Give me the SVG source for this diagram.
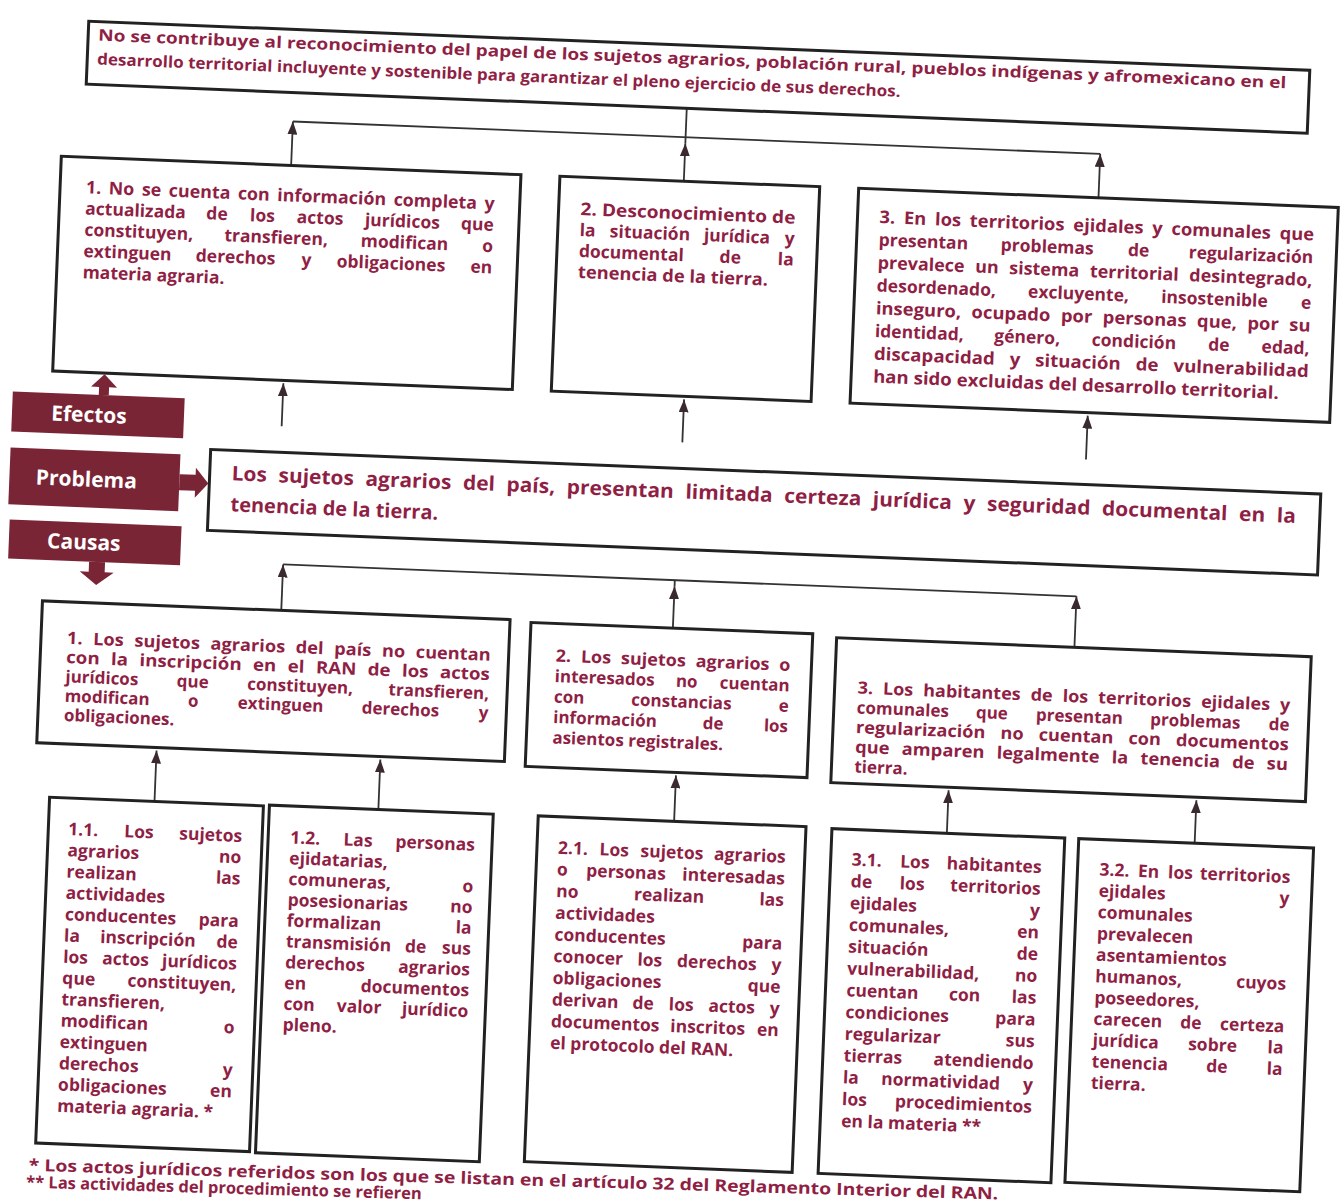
<svg xmlns="http://www.w3.org/2000/svg" width="1341" height="1204" viewBox="0 0 1341 1204">
<style>
.box{fill:#fff;stroke:#222;stroke-width:3}
.t{font-family:"Open Sans","DejaVu Sans",sans-serif;font-weight:700;fill:#8f1f45}
.m{text-anchor:middle}
.e{text-anchor:end}
.lab{fill:#7a2536}
.lt{font-family:"Open Sans","DejaVu Sans",sans-serif;font-weight:700;font-size:21px;fill:#fff;text-anchor:middle}
.con{fill:none;stroke:#333;stroke-width:1.8}
.f16{font-size:16px}.f17{font-size:17px}.f175{font-size:17.5px}.f20{font-size:20px}.f165{font-size:16.5px}
</style>
<defs>
<marker id="ah" markerUnits="userSpaceOnUse" markerWidth="13" markerHeight="10" refX="13" refY="5" orient="auto"><path d="M0,0 L13,5 L0,10 z" fill="#3a2a2f"/></marker>
</defs>
<rect width="1341" height="1204" fill="#fff"/>
<g transform="rotate(2.3 670 600)">

<g id="connectors">
<path class="con" d="M274,137 H1082"/>
<line class="con" x1="274" y1="181" x2="274" y2="137" marker-end="url(#ah)"/>
<line class="con" x1="1082" y1="181" x2="1082" y2="137" marker-end="url(#ah)"/>
<line class="con" x1="667" y1="181" x2="667" y2="143" marker-end="url(#ah)"/>
<line class="con" x1="667" y1="143" x2="667" y2="108"/>
<line class="con" x1="275" y1="442" x2="275" y2="399" marker-end="url(#ah)"/>
<line class="con" x1="676" y1="442" x2="676" y2="399" marker-end="url(#ah)"/>
<line class="con" x1="1080" y1="443" x2="1080" y2="399" marker-end="url(#ah)"/>
<path class="con" d="M282,580 H1076"/>
<line class="con" x1="282" y1="626" x2="282" y2="580" marker-end="url(#ah)"/>
<line class="con" x1="674" y1="628" x2="674" y2="586" marker-end="url(#ah)"/>
<line class="con" x1="674" y1="586" x2="674" y2="580"/>
<line class="con" x1="1076" y1="631" x2="1076" y2="580" marker-end="url(#ah)"/>
<line class="con" x1="163" y1="822" x2="163" y2="771" marker-end="url(#ah)"/>
<line class="con" x1="387" y1="821" x2="387" y2="771" marker-end="url(#ah)"/>
<line class="con" x1="683" y1="821" x2="683" y2="775" marker-end="url(#ah)"/>
<line class="con" x1="956" y1="822" x2="956" y2="779" marker-end="url(#ah)"/>
<line class="con" x1="1204" y1="822" x2="1204" y2="779" marker-end="url(#ah)"/>
</g>

<g id="fin" class="t f16">
<rect class="box" x="66" y="45" width="1222" height="63"/>
<text x="76" y="64" textLength="1189" lengthAdjust="spacingAndGlyphs">No se contribuye al reconocimiento del papel de los sujetos agrarios, población rural, pueblos indígenas y afromexicano en el</text>
<text x="76" y="88" textLength="804" lengthAdjust="spacingAndGlyphs">desarrollo territorial incluyente y sostenible para garantizar el pleno ejercicio de sus derechos.</text>
</g>

<g id="efecto1" class="t f175">
<rect class="box" x="44" y="181" width="460" height="215"/>
<text x="70" y="217" word-spacing="2.8" textLength="409" lengthAdjust="spacingAndGlyphs">1. No se cuenta con información completa y</text>
<text x="70" y="238.3">actualizada</text><text class="m" x="201.9" y="238.3">de</text><text class="m" x="247.4" y="238.3">los</text><text class="m" x="305.1" y="238.3">actos</text><text class="m" x="387.4" y="238.3">jurídicos</text><text class="e" x="479" y="238.3">que</text>
<text x="70" y="259.5">constituyen,</text><text class="m" x="261.9" y="259.5">transfieren,</text><text class="m" x="390.4" y="259.5">modifican</text><text class="e" x="479" y="259.5">o</text>
<text x="70" y="280.8">extinguen</text><text class="m" x="222.2" y="280.8">derechos</text><text class="m" x="293" y="280.8">y</text><text class="m" x="377.7" y="280.8">obligaciones</text><text class="e" x="479" y="280.8">en</text>
<text x="70" y="302">materia agraria.</text>
</g>

<g id="efecto2" class="t f175">
<rect class="box" x="543" y="181" width="260" height="215"/>
<text x="565" y="219" textLength="215" lengthAdjust="spacingAndGlyphs">2. Desconocimiento de</text>
<text x="565" y="240">la</text><text class="m" x="635.3" y="240">situación</text><text class="m" x="722.4" y="240">jurídica</text><text class="e" x="780" y="240">y</text>
<text x="565" y="261">documental</text><text class="m" x="716.5" y="261">de</text><text class="e" x="780" y="261">la</text>
<text x="565" y="282" textLength="190" lengthAdjust="spacingAndGlyphs">tenencia de la tierra.</text>
</g>

<g id="efecto3" class="t f175">
<rect class="box" x="842" y="181" width="480" height="215"/>
<text x="864" y="215" word-spacing="3.8" textLength="435" lengthAdjust="spacingAndGlyphs">3. En los territorios ejidales y comunales que</text>
<text x="864" y="237.8">presentan</text><text class="m" x="1032.8" y="237.8">problemas</text><text class="m" x="1124.2" y="237.8">de</text><text class="e" x="1299" y="237.8">regularización</text>
<text x="864" y="260.6" word-spacing="5.8" textLength="435" lengthAdjust="spacingAndGlyphs">prevalece un sistema territorial desintegrado,</text>
<text x="864" y="283.4">desordenado,</text><text class="m" x="1065.9" y="283.4">excluyente,</text><text class="m" x="1202" y="283.4">insostenible</text><text class="e" x="1299" y="283.4">e</text>
<text x="864" y="306.2" word-spacing="5.4" textLength="435" lengthAdjust="spacingAndGlyphs">inseguro, ocupado por personas que, por su</text>
<text x="864" y="329">identidad,</text><text class="m" x="1016.4" y="329">género,</text><text class="m" x="1123.2" y="329">condición</text><text class="m" x="1208.3" y="329">de</text><text class="e" x="1299" y="329">edad,</text>
<text x="864" y="351.8" word-spacing="9.5" textLength="435" lengthAdjust="spacingAndGlyphs">discapacidad y situación de vulnerabilidad</text>
<text x="864" y="374.6" textLength="406" lengthAdjust="spacingAndGlyphs">han sido excluidas del desarrollo territorial.</text>
</g>

<g id="label-efectos">
<polygon class="lab" points="91,418 91,410 83,410 96,397 109,410 101,410 101,418"/>
<rect class="lab" x="5" y="418" width="172" height="40"/>
<text class="lt" x="82" y="445.5">Efectos</text>
</g>
<g id="label-problema">
<rect class="lab" x="5" y="474" width="170" height="57"/>
<polygon class="lab" points="175,494 191,494 191,487 204,502 191,517 191,510 175,510"/>
<text class="lt" x="82" y="510">Problema</text>
</g>
<g id="label-causas">
<rect class="lab" x="7" y="546" width="172" height="39"/>
<polygon class="lab" points="88,585 104,585 104,595 113,595 96,608 79,595 88,595"/>
<text class="lt" x="82" y="573">Causas</text>
</g>

<g id="problema" class="t f20">
<rect class="box" x="205" y="468" width="1111" height="81"/>
<text x="227" y="498" word-spacing="5.9" textLength="1065" lengthAdjust="spacingAndGlyphs">Los sujetos agrarios del país, presentan limitada certeza jurídica y seguridad documental en la</text>
<text x="227" y="529">tenencia de la tierra.</text>
</g>

<g id="causa1" class="t f17">
<rect class="box" x="43" y="626" width="468" height="142"/>
<text x="69" y="668" word-spacing="5.5" textLength="424" lengthAdjust="spacingAndGlyphs">1. Los sujetos agrarios del país no cuentan</text>
<text x="69" y="687.3" word-spacing="5.9" textLength="424" lengthAdjust="spacingAndGlyphs">con la inscripción en el RAN de los actos</text>
<text x="69" y="706.6">jurídicos</text><text class="m" x="196.4" y="706.6">que</text><text class="m" x="303.9" y="706.6">constituyen,</text><text class="e" x="493" y="706.6">transfieren,</text>
<text x="69" y="725.9">modifican</text><text class="m" x="197.7" y="725.9">o</text><text class="m" x="285.1" y="725.9">extinguen</text><text class="m" x="405" y="725.9">derechos</text><text class="e" x="493" y="725.9">y</text>
<text x="69" y="745.2">obligaciones.</text>
</g>

<g id="causa2" class="t f17">
<rect class="box" x="532" y="628" width="282" height="144"/>
<text x="558" y="666" word-spacing="4.8" textLength="235" lengthAdjust="spacingAndGlyphs">2. Los sujetos agrarios o</text>
<text x="558" y="686.5">interesados</text><text class="m" x="690" y="686.5">no</text><text class="e" x="793" y="686.5">cuentan</text>
<text x="558" y="707">con</text><text class="m" x="685.5" y="707">constancias</text><text class="e" x="793" y="707">e</text>
<text x="558" y="727.5">información</text><text class="m" x="718" y="727.5">de</text><text class="e" x="793" y="727.5">los</text>
<text x="558" y="748">asientos registrales.</text>
</g>

<g id="causa3" class="t f17">
<rect class="box" x="838" y="631" width="475" height="145"/>
<text x="861" y="686" word-spacing="5" textLength="433" lengthAdjust="spacingAndGlyphs">3. Los habitantes de los territorios ejidales y</text>
<text x="861" y="705.8">comunales</text><text class="m" x="996.2" y="705.8">que</text><text class="m" x="1083.8" y="705.8">presentan</text><text class="m" x="1199.8" y="705.8">problemas</text><text class="e" x="1294" y="705.8">de</text>
<text x="861" y="725.5" word-spacing="9.6" textLength="433" lengthAdjust="spacingAndGlyphs">regularización no cuentan con documentos</text>
<text x="861" y="745.3" word-spacing="6.9" textLength="433" lengthAdjust="spacingAndGlyphs">que amparen legalmente la tenencia de su</text>
<text x="861" y="765">tierra.</text>
</g>

<g id="causa11" class="t f175">
<rect class="box" x="58" y="822" width="214" height="346"/>
<text x="78" y="859">1.1.</text><text class="m" x="148.7" y="859">Los</text><text class="e" x="252" y="859">sujetos</text>
<text x="78" y="880.3">agrarios</text><text class="e" x="252" y="880.3">no</text>
<text x="78" y="901.6">realizan</text><text class="e" x="252" y="901.6">las</text>
<text x="78" y="922.9">actividades</text>
<text x="78" y="944.2">conducentes</text><text class="e" x="252" y="944.2">para</text>
<text x="78" y="965.5">la</text><text class="m" x="162" y="965.5">inscripción</text><text class="e" x="252" y="965.5">de</text>
<text x="78" y="986.8">los</text><text class="m" x="140.5" y="986.8">actos</text><text class="e" x="252" y="986.8">jurídicos</text>
<text x="78" y="1008.1">que</text><text class="e" x="252" y="1008.1">constituyen,</text>
<text x="78" y="1029.4">transfieren,</text>
<text x="78" y="1050.7">modifican</text><text class="e" x="252" y="1050.7">o</text>
<text x="78" y="1072">extinguen</text>
<text x="78" y="1093.3">derechos</text><text class="e" x="252" y="1093.3">y</text>
<text x="78" y="1114.6">obligaciones</text><text class="e" x="252" y="1114.6">en</text>
<text x="78" y="1135.9">materia agraria. *</text>
</g>

<g id="causa12" class="t f175">
<rect class="box" x="278" y="821" width="224" height="348"/>
<text x="300" y="858.5">1.2.</text><text class="m" x="367.9" y="858.5">Las</text><text class="e" x="485" y="858.5">personas</text>
<text x="300" y="879.3">ejidatarias,</text>
<text x="300" y="900.1">comuneras,</text><text class="e" x="485" y="900.1">o</text>
<text x="300" y="920.9">posesionarias</text><text class="e" x="485" y="920.9">no</text>
<text x="300" y="941.7">formalizan</text><text class="e" x="485" y="941.7">la</text>
<text x="300" y="962.5">transmisión</text><text class="m" x="429.8" y="962.5">de</text><text class="e" x="485" y="962.5">sus</text>
<text x="300" y="983.3">derechos</text><text class="e" x="485" y="983.3">agrarios</text>
<text x="300" y="1004.1">en</text><text class="e" x="485" y="1004.1">documentos</text>
<text x="300" y="1024.9">con</text><text class="m" x="375.6" y="1024.9">valor</text><text class="e" x="485" y="1024.9">jurídico</text>
<text x="300" y="1045.7">pleno.</text>
</g>

<g id="causa21" class="t f175">
<rect class="box" x="547" y="821" width="268" height="346"/>
<text x="568" y="858">2.1.</text><text class="m" x="624.3" y="858">Los</text><text class="m" x="682.1" y="858">sujetos</text><text class="e" x="796" y="858">agrarios</text>
<text x="568" y="879.7">o</text><text class="m" x="637" y="879.7">personas</text><text class="e" x="796" y="879.7">interesadas</text>
<text x="568" y="901.4">no</text><text class="m" x="681" y="901.4">realizan</text><text class="e" x="796" y="901.4">las</text>
<text x="568" y="923.1">actividades</text>
<text x="568" y="944.8">conducentes</text><text class="e" x="796" y="944.8">para</text>
<text x="568" y="966.5">conocer</text><text class="m" x="664.3" y="966.5">los</text><text class="m" x="731.4" y="966.5">derechos</text><text class="e" x="796" y="966.5">y</text>
<text x="568" y="988.2">obligaciones</text><text class="e" x="796" y="988.2">que</text>
<text x="568" y="1009.9">derivan</text><text class="m" x="659.4" y="1009.9">de</text><text class="m" x="697.5" y="1009.9">los</text><text class="m" x="748" y="1009.9">actos</text><text class="e" x="796" y="1009.9">y</text>
<text x="568" y="1031.6">documentos</text><text class="m" x="724.9" y="1031.6">inscritos</text><text class="e" x="796" y="1031.6">en</text>
<text x="568" y="1053.3">el protocolo del RAN.</text>
</g>

<g id="causa31" class="t f175">
<rect class="box" x="841" y="822" width="233" height="345"/>
<text x="862" y="858">3.1.</text><text class="m" x="925.2" y="858">Los</text><text class="e" x="1052" y="858">habitantes</text>
<text x="862" y="879.8">de</text><text class="m" x="923.4" y="879.8">los</text><text class="e" x="1052" y="879.8">territorios</text>
<text x="862" y="901.6">ejidales</text><text class="e" x="1052" y="901.6">y</text>
<text x="862" y="923.4">comunales,</text><text class="e" x="1052" y="923.4">en</text>
<text x="862" y="945.2">situación</text><text class="e" x="1052" y="945.2">de</text>
<text x="862" y="967">vulnerabilidad,</text><text class="e" x="1052" y="967">no</text>
<text x="862" y="988.8">cuentan</text><text class="m" x="980.3" y="988.8">con</text><text class="e" x="1052" y="988.8">las</text>
<text x="862" y="1010.6">condiciones</text><text class="e" x="1052" y="1010.6">para</text>
<text x="862" y="1032.4">regularizar</text><text class="e" x="1052" y="1032.4">sus</text>
<text x="862" y="1054.2">tierras</text><text class="e" x="1052" y="1054.2">atendiendo</text>
<text x="862" y="1076">la</text><text class="m" x="959.8" y="1076">normatividad</text><text class="e" x="1052" y="1076">y</text>
<text x="862" y="1097.8">los</text><text class="e" x="1052" y="1097.8">procedimientos</text>
<text x="862" y="1119.6">en la materia **</text>
</g>

<g id="causa32" class="t f175">
<rect class="box" x="1088" y="822" width="235" height="344"/>
<text x="1110" y="858">3.2.</text><text class="m" x="1159.1" y="858">En</text><text class="m" x="1191" y="858">los</text><text class="e" x="1301" y="858">territorios</text>
<text x="1110" y="879.4">ejidales</text><text class="e" x="1301" y="879.4">y</text>
<text x="1110" y="900.7">comunales</text>
<text x="1110" y="922.1">prevalecen</text>
<text x="1110" y="943.4">asentamientos</text>
<text x="1110" y="964.8">humanos,</text><text class="e" x="1301" y="964.8">cuyos</text>
<text x="1110" y="986.1">poseedores,</text>
<text x="1110" y="1007.5">carecen</text><text class="m" x="1207.5" y="1007.5">de</text><text class="e" x="1301" y="1007.5">certeza</text>
<text x="1110" y="1028.8">jurídica</text><text class="m" x="1230" y="1028.8">sobre</text><text class="e" x="1301" y="1028.8">la</text>
<text x="1110" y="1050.2">tenencia</text><text class="m" x="1235.2" y="1050.2">de</text><text class="e" x="1301" y="1050.2">la</text>
<text x="1110" y="1071.5">tierra.</text>
</g>

<g id="notas" class="t f165" transform="rotate(-0.6 52 1196)">
<text x="52" y="1196" textLength="970" lengthAdjust="spacingAndGlyphs">* Los actos jurídicos referidos son los que se listan en el artículo 32 del Reglamento Interior del RAN.</text>
<text x="50" y="1213">** Las actividades del procedimiento se refieren</text>
</g>

</g>
</svg>
